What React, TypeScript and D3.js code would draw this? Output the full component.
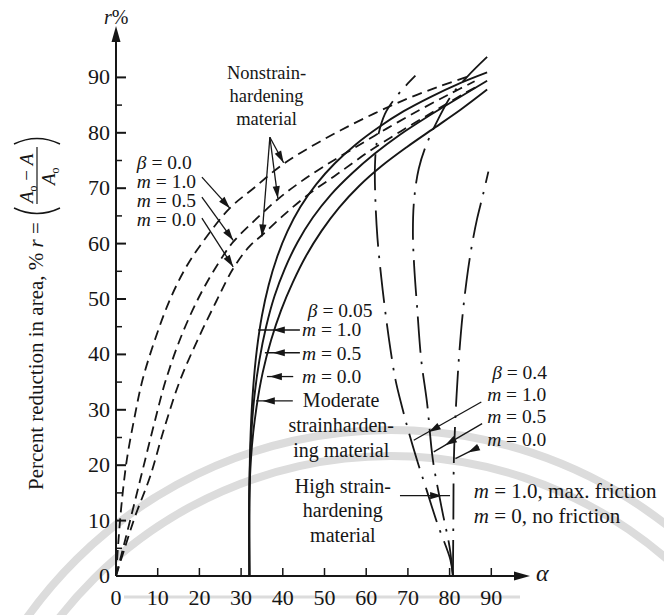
import React, { useEffect, useRef } from "react";
import * as d3 from "d3";

// axis ticks
const alphaTicks = [0, 10, 20, 30, 40, 50, 60, 70, 80, 90];
const rTicks = [0, 10, 20, 30, 40, 50, 60, 70, 80, 90];
const rMinorTicks = [5, 15, 25, 35, 45, 55, 65, 75, 85];

// beta = 0.0, nonstrainhardening material (dashed) -- [alpha, r]
const beta0m10 = [[0, 0], [0.6, 6.5], [1.4, 13.5], [2.6, 21], [4.4, 28.5], [6.4, 35.5], [9.5, 43], [13, 50], [17, 56], [21.5, 61], [27.3, 66.4], [33, 70], [40, 74.3], [47, 77.6], [54, 80.5], [62, 83.5], [70, 86.2], [78, 88.5], [85, 90.3]];
const beta0m05 = [[0, 0], [2.2, 6.5], [4.6, 13.7], [7, 21], [9.4, 28.2], [11.8, 35], [15.5, 43], [20, 50.5], [25, 57], [28.1, 60.3], [33, 64], [38.8, 68], [44, 71], [50, 74], [57, 77.2], [65, 80.8], [73, 84.2], [80, 87], [86, 89.3]];
const beta0m00 = [[0, 0], [2.2, 5.3], [4.6, 10.8], [8.2, 18], [11.5, 26.5], [15.3, 35.2], [19.5, 42.5], [24, 49.5], [28.1, 55.5], [32, 59.5], [35, 61.5], [40, 65], [46, 68.8], [53, 72.5], [61, 76.8], [69, 80.6], [77, 84.2], [84, 87.3], [87, 88.5]];

// beta = 0.05, moderate strainhardening (solid)
const beta005m10 = [[32, 0], [32, 16], [32.3, 26], [32.9, 34], [33.8, 41], [35, 47], [36.6, 52.5], [38.6, 57.5], [41.1, 62.2], [44.2, 66.6], [48, 70.7], [52.5, 74.5], [57.5, 77.9], [63, 81], [69, 83.9], [75.5, 86.5], [82, 88.8], [89, 90.9]];
const beta005m05 = [[32, 0], [32, 16], [32.4, 25], [33.2, 32.5], [34.4, 39], [36, 45], [38, 50.5], [40.5, 55.5], [43.5, 60.2], [47.2, 64.7], [51.5, 68.8], [56.5, 72.6], [62, 76.2], [68, 79.6], [74.5, 82.8], [81.5, 86], [89, 89.4]];
const beta005m00 = [[32, 0], [32, 15], [32.6, 23.5], [33.7, 30.5], [35.2, 36.8], [37.2, 42.6], [39.6, 48], [42.4, 53], [45.6, 57.8], [49.3, 62.3], [53.5, 66.5], [58.3, 70.4], [63.7, 74], [69.7, 77.4], [76.2, 80.8], [82.7, 84.2], [89, 87.8]];

// beta = 0.4, high strainhardening (dash-dot)
const beta04m10 = [[80.8, 0], [80.2, 2.9], [77, 9.6], [74.5, 15.5], [72.2, 20.9], [70.2, 26], [68.6, 30.5], [67, 35.5], [65.8, 41], [64.7, 47], [63.6, 54], [62.7, 61], [62.2, 68], [62.1, 74], [62.6, 78.5], [64.5, 83.4], [67, 86.3], [69.5, 88.5], [71.8, 90.3]];
const beta04m05 = [[80.8, 0], [80, 5.2], [78.2, 11.9], [76, 20.9], [74.6, 31.2], [73.2, 39], [72.2, 48.6], [71.5, 56], [71.2, 62], [71.5, 68], [72.6, 73.5], [74.4, 77.8], [77.3, 82.5], [80.3, 86.6], [84.2, 90.1], [89, 93.7]];
const beta04m00 = [[80.8, 0], [80.9, 10], [81, 20], [81.3, 27], [81.7, 33], [82.3, 40], [83.1, 47], [84.1, 53.5], [85.3, 59.5], [86.6, 64.5], [88, 68.8], [89.3, 73]];

// leader arrows: from, to, arrowhead position
const beta0Arrows = [
  { from: [20.6, 72.0], to: [27.3, 66.4] },
  { from: [20.6, 68.4], to: [28.1, 60.6] },
  { from: [20.6, 64.6], to: [28.1, 55.8] },
];
const nonstrainArrows = [
  { from: [36.9, 79.2], to: [40.2, 74.6] },
  { from: [36.9, 79.2], to: [38.8, 68.2] },
  { from: [36.9, 79.2], to: [35.0, 61.3] },
];
const beta005Arrows = [
  { from: [44.1, 44.4], to: [34.1, 44.4], head: [37.6, 44.4] },
  { from: [44.1, 40.3], to: [35.7, 40.3], head: [37.6, 40.3] },
  { from: [42.5, 36.0], to: [36.2, 36.0], head: [36.9, 36.0] },
  { from: [42.4, 31.6], to: [33.6, 31.6], head: [35.2, 31.6] },
];
const beta04Arrows = [
  { from: [87.6, 31.4], to: [71.4, 24.5], head: [75.0, 26.0] },
  { from: [87.8, 27.5], to: [76.2, 22.4], head: [78.9, 23.6] },
  { from: [87.0, 23.3], to: [81.4, 21.2], head: [84.4, 22.3] },
];
const highArrow = [{ from: [68.1, 14.5], to: [80.1, 14.5], head: [78.2, 14.5] }];

// annotation text
const nonstrainLabel = ["Nonstrain-", "hardening", "material"];
const beta0Labels = ["β = 0.0", "m = 1.0", "m = 0.5", "m = 0.0"];
const beta005Labels = ["β = 0.05", "m = 1.0", "m = 0.5", "m = 0.0"];
const moderateLabel = ["Moderate", "strainharden-", "ing material"];
const highLabel = ["High strain-", "hardening", "material"];
const beta04Labels = ["β = 0.4", "m = 1.0", "m = 0.5", "m = 0.0"];
const frictionLabels = ["m = 1.0, max. friction", "m = 0, no friction"];

const FONT = "'Liberation Serif', 'Times New Roman', serif";
const INK = "#161616";

export default function App() {
  const svgRef = useRef(null);

  useEffect(() => {
    const svg = d3.select(svgRef.current);
    svg.selectAll("*").remove();

    const x = d3.scaleLinear().domain([0, 90]).range([116, 491.3]);
    const y = d3.scaleLinear().domain([0, 90]).range([576, 77.4]);

    const line = d3.line()
      .x(d => x(d[0]))
      .y(d => y(d[1]))
      .curve(d3.curveCatmullRom.alpha(0.5));

    // faint scanned watermark behind the chart
    const wm = svg.append("g").attr("fill", "none").attr("stroke", "#dcdcdc");
    [447, 421].forEach(rad => {
      wm.append("path")
        .attr("d", d3.arc()({ innerRadius: rad, outerRadius: rad, startAngle: -1.05, endAngle: 1.15 }))
        .attr("transform", "translate(391,877)")
        .attr("stroke-width", 8);
    });
    wm.append("line").attr("x1", 124).attr("x2", 520).attr("y1", 597).attr("y2", 597)
      .attr("stroke-width", 3);

    // axes
    const ax = svg.append("g").attr("stroke", INK).attr("stroke-width", 2);
    ax.append("line").attr("x1", x(0)).attr("y1", y(0)).attr("x2", x(0)).attr("y2", 34);
    ax.append("line").attr("x1", x(0)).attr("y1", y(0)).attr("x2", 522).attr("y2", y(0));
    svg.append("path").attr("fill", INK)
      .attr("d", `M${x(0)},26 L${x(0) - 4.5},42 L${x(0) + 4.5},42 Z`);
    svg.append("path").attr("fill", INK)
      .attr("d", `M530,${y(0)} L514,${y(0) - 4.5} L514,${y(0) + 4.5} Z`);

    ax.selectAll(".yt").data(rTicks.slice(1)).join("line")
      .attr("x1", x(0)).attr("x2", x(0) + 10)
      .attr("y1", d => y(d)).attr("y2", d => y(d));
    ax.selectAll(".ym").data(rMinorTicks).join("line")
      .attr("stroke-width", 1.5)
      .attr("x1", x(0)).attr("x2", x(0) + 6)
      .attr("y1", d => y(d)).attr("y2", d => y(d));
    ax.selectAll(".xt").data(alphaTicks.slice(1)).join("line")
      .attr("stroke-width", 1.5)
      .attr("x1", d => x(d)).attr("x2", d => x(d))
      .attr("y1", y(0)).attr("y2", y(0) - 8);

    const tickText = svg.append("g")
      .attr("font-family", FONT).attr("font-size", 22).attr("fill", INK);
    tickText.selectAll(".yl").data(rTicks).join("text")
      .attr("x", x(0) - 6).attr("y", d => y(d) + 7)
      .attr("text-anchor", "end").text(d => d);
    tickText.selectAll(".xl").data(alphaTicks).join("text")
      .attr("x", d => x(d)).attr("y", 605)
      .attr("text-anchor", "middle").text(d => d);

    svg.append("text").attr("x", 104).attr("y", 24)
      .attr("font-family", FONT).attr("font-size", 20).attr("fill", INK)
      .html('<tspan font-style="italic">r</tspan>%');
    svg.append("text").attr("x", 536).attr("y", y(0) + 5)
      .attr("font-family", FONT).attr("font-size", 24).attr("font-style", "italic")
      .attr("fill", INK).text("α");

    // y-axis title, rotated
    const yt = svg.append("g")
      .attr("transform", "translate(43,490) rotate(-90)")
      .attr("font-family", FONT).attr("fill", INK);
    yt.append("text").attr("x", 0).attr("y", 0).attr("font-size", 21)
      .html('Percent reduction in area, % <tspan font-style="italic">r</tspan> =');
    yt.append("path").attr("fill", "none").attr("stroke", INK).attr("stroke-width", 1.4)
      .attr("d", "M282,-29 Q271,-6 282,17");
    yt.append("path").attr("fill", "none").attr("stroke", INK).attr("stroke-width", 1.4)
      .attr("d", "M346,-29 Q357,-6 346,17");
    yt.append("line").attr("x1", 286).attr("x2", 343).attr("y1", -6).attr("y2", -6)
      .attr("stroke", INK).attr("stroke-width", 1.2);
    yt.append("text").attr("x", 287).attr("y", -10).attr("font-size", 19)
      .html('<tspan font-style="italic">A</tspan><tspan font-size="12" dy="4">o</tspan><tspan dy="-4"> − </tspan><tspan font-style="italic">A</tspan>');
    yt.append("text").attr("x", 305).attr("y", 12).attr("font-size", 19)
      .html('<tspan font-style="italic">A</tspan><tspan font-size="12" dy="4">o</tspan>');

    // curves
    const curves = svg.append("g").attr("fill", "none").attr("stroke", INK);
    [beta0m10, beta0m05, beta0m00].forEach(c => {
      curves.append("path").datum(c).attr("d", line)
        .attr("stroke-width", 1.8).attr("stroke-dasharray", "10,6");
    });
    [beta005m10, beta005m05, beta005m00].forEach(c => {
      curves.append("path").datum(c).attr("d", line).attr("stroke-width", 1.9);
    });
    [beta04m10, beta04m05, beta04m00].forEach(c => {
      curves.append("path").datum(c).attr("d", line)
        .attr("stroke-width", 1.8).attr("stroke-dasharray", "36,9,2.5,9");
    });

    // leader arrows
    const arrows = svg.append("g");
    const drawArrow = a => {
      const x1 = x(a.from[0]), y1 = y(a.from[1]);
      const x2 = x(a.to[0]), y2 = y(a.to[1]);
      arrows.append("line").attr("x1", x1).attr("y1", y1).attr("x2", x2).attr("y2", y2)
        .attr("stroke", INK).attr("stroke-width", 1.3);
      const h = a.head || a.to;
      const hx = x(h[0]), hy = y(h[1]);
      const ang = Math.atan2(y2 - y1, x2 - x1);
      const L = 12, w = 3.6;
      const bx = hx - L * Math.cos(ang), by = hy - L * Math.sin(ang);
      const px = -Math.sin(ang) * w, py = Math.cos(ang) * w;
      arrows.append("path").attr("fill", INK)
        .attr("d", `M${hx},${hy} L${bx + px},${by + py} L${bx - px},${by - py} Z`);
    };
    [...beta0Arrows, ...nonstrainArrows, ...beta005Arrows, ...beta04Arrows, ...highArrow]
      .forEach(drawArrow);

    // annotation text
    const notes = svg.append("g").attr("font-family", FONT).attr("fill", INK);
    const mText = t => t.replace(/^m /, '<tspan font-style="italic">m</tspan> ')
      .replace(/^β /, '<tspan font-style="italic">β</tspan> ');
    const block = (lines, ax0, ry0, step, anchor, size) => {
      lines.forEach((t, i) => {
        notes.append("text")
          .attr("x", x(ax0)).attr("y", y(ry0) + i * step)
          .attr("text-anchor", anchor).attr("font-size", size)
          .html(mText(t));
      });
    };
    block(nonstrainLabel, 36.1, 89.8, 23, "middle", 18.5);
    block(beta0Labels, 5.0, 73.5, 19.2, "start", 19.5);
    block(beta005Labels.slice(0, 1), 46.0, 46.8, 0, "start", 19.5);
    block(beta005Labels.slice(1), 44.6, 43.3, 23.5, "start", 19.5);
    block(moderateLabel, 54.0, 30.5, 25, "middle", 20);
    block(highLabel, 54.4, 15.0, 24.5, "middle", 20);
    block(beta04Labels.slice(0, 1), 90.2, 35.6, 0, "start", 19.5);
    block(beta04Labels.slice(1), 89.0, 31.6, 22.5, "start", 19.5);
    block(frictionLabels, 85.8, 14.0, 25, "start", 21);
  }, []);

  return (
    <svg
      ref={svgRef}
      width={664}
      height={615}
      style={{ position: "absolute", left: 0, top: 0, background: "#fff" }}
    />
  );
}
